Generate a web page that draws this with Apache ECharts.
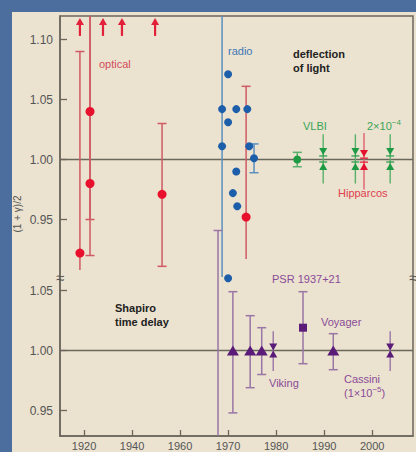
<!DOCTYPE html>
<html><head><meta charset="utf-8">
<script src="https://cdn.jsdelivr.net/npm/echarts@6/dist/echarts.min.js"></script>
<style>html,body{margin:0;padding:0;overflow:hidden;background:#4b6e9f}
#c{width:416px;height:452px}</style></head>
<body><div id="c"></div>
<script>
// ---------- data ----------
const xTickYears = [1920, 1940, 1960, 1970, 1980, 1990, 2000];
const topTicks = [0.95, 1.00, 1.05, 1.10];
const bottomTicks = [0.95, 1.00, 1.05];

// deflection of light: optical
const opticalArrowYears = [1918.3, 1927.9, 1935.8, 1949.6];
const opticalArrowFrom = 1.103;
const opticalArrowTo = 1.118;
const opticalYears = [1918.3, 1922.5, 1922.5, 1952.5];
const opticalValues = [0.922, 1.04, 0.98, 0.971];
const opticalLow = [0.908, 0.95, 0.92, 0.911];
const opticalHigh = [1.09, 1.1196, 1.1196, 1.03];
const opticalCapLow = [0, 1, 1, 1];
const opticalCapHigh = [1, 0, 0, 1];

// 1973 optical eclipse
const eclipseYears = [1973.75];
const eclipseValues = [0.952];
const eclipseLow = [0.917];
const eclipseHigh = [1.061];

// radio
const radioYears = [1968.75, 1968.75, 1970, 1970, 1971.7, 1974, 1974.4, 1975.4, 1971.7, 1971, 1971.9, 1970];
const radioValues = [1.042, 1.011, 1.071, 1.031, 1.042, 1.042, 1.011, 1.001, 0.99, 0.972, 0.961, 0.901];
const radioErrYears = [1968.75, 1975.4];
const radioErrLow = [0.902, 0.989];
const radioErrHigh = [1.1196, 1.013];
const radioCapLow = [0, 1];
const radioCapHigh = [0, 1];

// VLBI
const vlbiYears = [1984.4];
const vlbiValues = [1.0];
const vlbiLow = [0.994];
const vlbiHigh = [1.006];
const vlbiLimitYears = [1989.8, 1996.5, 2003.75];
const vlbiLimitLow = [0.98, 0.98, 0.98];
const vlbiLimitHigh = [1.021, 1.021, 1.021];
const vlbiTipHigh = [1.0038, 1.0038, 1.0038];
const vlbiTipLow = [0.9971, 0.9971, 0.9971];

// Hipparcos
const hipparcosYears = [1998.3];
const hipparcosLow = [0.975];
const hipparcosHigh = [1.022];
const hipparcosTipHigh = [1.002];
const hipparcosTipLow = [0.997];

// Shapiro time delay
const radar1968Years = [1967.9];
const radar1968Low = [0.929];
const radar1968High = [1.10];
const delayTriYears = [1971, 1974.6, 1977, 1991.9];
const delayTriValues = [1.0, 1.0, 1.0, 1.0];
const delayTriLow = [0.948, 0.969, 0.98, 0.984];
const delayTriHigh = [1.049, 1.029, 1.019, 1.014];
const pulsarYears = [1985.6];
const pulsarValues = [1.019];
const pulsarLow = [0.989];
const pulsarHigh = [1.049];
const delayLimitYears = [1979.4, 2003.75];
const delayLimitLow = [0.983, 0.983];
const delayLimitHigh = [1.016, 1.016];
const delayTipHigh = [1.0, 1.0];
const delayTipLow = [1.0, 1.0];

// ---------- axis transform (compressed before 1960) ----------
const u = y => (y >= 1960 ? y : 1960 + (y - 1960) / 2);
const yearOf = v => Math.round(v >= 1960 ? v : 1960 + (v - 1960) * 2);

const C = {
  redLine: '#cf5a63', redDot: '#e8102c',
  blueLine: '#5b8fbf', blueDot: '#1c5ea9',
  greenLine: '#58b06c', greenDot: '#1e9a44',
  purpleLine: '#9a76a6', purpleDot: '#5b1b78',
  axis: '#6b675c', text: '#555'
};

function errRender(color, capW, lw) {
  return function (params, api) {
    const x = api.value(0), lo = api.value(1), hi = api.value(2);
    const a = api.coord([x, lo]), b = api.coord([x, hi]);
    const st = {stroke: color, lineWidth: lw};
    const ch = [{type: 'line', shape: {x1: a[0], y1: a[1], x2: b[0], y2: b[1]}, style: st}];
    if (api.value(3)) ch.push({type: 'line', shape: {x1: a[0] - capW / 2, y1: a[1], x2: a[0] + capW / 2, y2: a[1]}, style: st});
    if (api.value(4)) ch.push({type: 'line', shape: {x1: b[0] - capW / 2, y1: b[1], x2: b[0] + capW / 2, y2: b[1]}, style: st});
    return {type: 'group', children: ch};
  };
}
function limitRender(lineColor, fill, w, h, caps) {
  return function (params, api) {
    const x = api.value(0);
    const a = api.coord([x, api.value(1)]), b = api.coord([x, api.value(2)]);
    const th = api.coord([x, api.value(3)]), tl = api.coord([x, api.value(4)]);
    const ch = [{type: 'line', shape: {x1: a[0], y1: a[1], x2: b[0], y2: b[1]}, style: {stroke: lineColor, lineWidth: 1.4}}];
    ch.push({type: 'polygon', shape: {points: [[th[0] - w / 2, th[1] - h], [th[0] + w / 2, th[1] - h], [th[0], th[1]]]}, style: {fill: fill}});
    ch.push({type: 'polygon', shape: {points: [[tl[0] - w / 2, tl[1] + h], [tl[0] + w / 2, tl[1] + h], [tl[0], tl[1]]]}, style: {fill: fill}});
    if (caps) {
      ch.push({type: 'line', shape: {x1: th[0] - w / 2, y1: th[1] + 1, x2: th[0] + w / 2, y2: th[1] + 1}, style: {stroke: fill, lineWidth: 1.2}});
      ch.push({type: 'line', shape: {x1: tl[0] - w / 2, y1: tl[1] - 1, x2: tl[0] + w / 2, y2: tl[1] - 1}, style: {stroke: fill, lineWidth: 1.2}});
    }
    return {type: 'group', children: ch};
  };
}
function arrowRender(color) {
  return function (params, api) {
    const x = api.value(0);
    const a = api.coord([x, api.value(1)]), b = api.coord([x, api.value(2)]);
    return {type: 'group', children: [
      {type: 'line', shape: {x1: a[0], y1: a[1], x2: b[0], y2: b[1] + 5}, style: {stroke: color, lineWidth: 2.2}},
      {type: 'polygon', shape: {points: [[b[0] - 4, b[1] + 7], [b[0] + 4, b[1] + 7], [b[0], b[1]]]}, style: {fill: color}}
    ]};
  };
}
const zip = (...arrs) => arrs[0].map((_, i) => arrs.map((a, k) => (k === 0 ? u(a[i]) : a[i])));
const ones = n => new Array(n).fill(1);
const zeros = n => new Array(n).fill(0);

function errSeries(yi, color, data) {
  return {type: 'custom', xAxisIndex: 0, yAxisIndex: yi, renderItem: errRender(color, 9, 1.5),
    encode: {x: 0, y: [1, 2]}, data: data, z: 3, silent: true};
}
function scatter(yi, color, symbol, size, years, vals) {
  return {type: 'scatter', xAxisIndex: 0, yAxisIndex: yi, symbol: symbol, symbolSize: size,
    itemStyle: {color: color, opacity: 1}, data: zip(years, vals), z: 5, silent: true};
}

const series = [
  // reference lines at 1.00
  {type: 'line', yAxisIndex: 0, data: [[1935, 1], [2008.5, 1]], symbol: 'none', lineStyle: {color: C.axis, width: 1.5}, z: 1, silent: true},
  {type: 'line', yAxisIndex: 1, data: [[1935, 1], [2008.5, 1]], symbol: 'none', lineStyle: {color: C.axis, width: 1.5}, z: 1, silent: true},
  // optical
  {type: 'custom', yAxisIndex: 0, renderItem: arrowRender('#e2203a'), encode: {x: 0, y: [1, 2]},
    data: zip(opticalArrowYears, opticalArrowYears.map(() => opticalArrowFrom), opticalArrowYears.map(() => opticalArrowTo)), z: 4, silent: true},
  errSeries(0, C.redLine, zip(opticalYears, opticalLow, opticalHigh, opticalCapLow, opticalCapHigh)),
  scatter(0, C.redDot, 'circle', 9, opticalYears, opticalValues),
  // radio
  errSeries(0, C.blueLine, zip(radioErrYears, radioErrLow, radioErrHigh, radioCapLow, radioCapHigh)),
  scatter(0, C.blueDot, 'circle', 8, radioYears, radioValues),
  // 1973 eclipse
  errSeries(0, C.redLine, zip(eclipseYears, eclipseLow, eclipseHigh, zeros(1), ones(1))),
  scatter(0, C.redDot, 'circle', 9, eclipseYears, eclipseValues),
  // VLBI
  errSeries(0, C.greenLine, zip(vlbiYears, vlbiLow, vlbiHigh, ones(1), ones(1))),
  scatter(0, C.greenDot, 'circle', 8, vlbiYears, vlbiValues),
  {type: 'custom', yAxisIndex: 0, renderItem: limitRender(C.greenLine, C.greenDot, 8, 7, true), encode: {x: 0, y: [1, 2]},
    data: zip(vlbiLimitYears, vlbiLimitLow, vlbiLimitHigh, vlbiTipHigh, vlbiTipLow), z: 4, silent: true},
  {type: 'custom', yAxisIndex: 0, renderItem: limitRender('#e0606e', '#e3102e', 8, 7, true), encode: {x: 0, y: [1, 2]},
    data: zip(hipparcosYears, hipparcosLow, hipparcosHigh, hipparcosTipHigh, hipparcosTipLow), z: 4, silent: true},
  // Shapiro time delay
  errSeries(1, C.purpleLine, zip(radar1968Years, radar1968Low, radar1968High, zeros(1), ones(1))),
  errSeries(1, C.purpleLine, zip(delayTriYears, delayTriLow, delayTriHigh, ones(4), ones(4))),
  scatter(1, C.purpleDot, 'triangle', [12, 10], delayTriYears, delayTriValues),
  errSeries(1, C.purpleLine, zip(pulsarYears, pulsarLow, pulsarHigh, ones(1), ones(1))),
  scatter(1, C.purpleDot, 'rect', 8, pulsarYears, pulsarValues),
  {type: 'custom', yAxisIndex: 1, renderItem: limitRender(C.purpleLine, C.purpleDot, 8, 7, false), encode: {x: 0, y: [1, 2]},
    data: zip(delayLimitYears, delayLimitLow, delayLimitHigh, delayTipHigh, delayTipLow), z: 4, silent: true}
];

const font = "'Liberation Sans', Arial, sans-serif";
function txt(x, y, text, color, opts) {
  return Object.assign({type: 'text', x: x, y: y, z: 20,
    style: Object.assign({text: text, fill: color, font: '11px ' + font, textVerticalAlign: 'middle'}, opts || {})});
}

const chart = echarts.init(document.getElementById('c'), null, {renderer: 'svg'});
chart.setOption({
  animation: false,
  backgroundColor: 'transparent',
  grid: {left: 60, right: 3, top: 16, bottom: 16, outerBoundsMode: 'none', containLabel: false,
    show: true, borderColor: C.axis, borderWidth: 1.5, backgroundColor: 'transparent'},
  xAxis: {
    type: 'value', min: 1935, max: 2008.5,
    axisLine: {show: true, lineStyle: {color: C.axis, width: 1.5}},
    axisTick: {show: true, inside: true, length: 6, customValues: xTickYears.map(u), lineStyle: {color: C.axis, width: 1.3}},
    axisLabel: {customValues: xTickYears.map(u), formatter: v => String(yearOf(v)), color: C.text, fontSize: 11, fontFamily: font, margin: 4},
    splitLine: {show: false}
  },
  yAxis: [
    {type: 'value', min: 0.7696, max: 1.1196, position: 'left',
      axisLine: {show: true, lineStyle: {color: C.axis, width: 1.5}},
      axisTick: {show: true, inside: true, length: 7, customValues: topTicks, lineStyle: {color: C.axis, width: 1.3}},
      axisLabel: {customValues: topTicks, formatter: v => v.toFixed(2), color: C.text, fontSize: 12, fontFamily: font, margin: 7},
      splitLine: {show: false}},
    {type: 'value', min: 0.92875, max: 1.27875, position: 'left',
      axisLine: {show: false},
      axisTick: {show: true, inside: true, length: 7, customValues: bottomTicks, lineStyle: {color: C.axis, width: 1.3}},
      axisLabel: {customValues: bottomTicks, formatter: v => v.toFixed(2), color: C.text, fontSize: 12, fontFamily: font, margin: 7},
      splitLine: {show: false}}
  ],
  graphic: [
    {type: 'rect', shape: {x: 12, y: 12, width: 404, height: 440}, style: {fill: '#ebe2cf'}, z: -100, silent: true},
    txt(99, 64, 'optical', '#d24e5c'),
    txt(228, 51, 'radio', '#3d79b8'),
    txt(293, 54, 'deflection', '#222', {font: 'bold 11px ' + font}),
    txt(293, 68, 'of light', '#222', {font: 'bold 11px ' + font}),
    txt(303, 126, 'VLBI', '#3aa456'),
    {type: 'text', x: 367, y: 126, z: 20, style: {text: '{a|2×10}{s|−4}', textVerticalAlign: 'middle',
      rich: {a: {fill: '#3aa456', font: '11px ' + font}, s: {fill: '#3aa456', font: '8px ' + font, verticalAlign: 'top', padding: [0, 0, 8, 0]}}}},
    txt(338, 193, 'Hipparcos', '#e0404e'),
    txt(115, 308, 'Shapiro', '#222', {font: 'bold 11px ' + font}),
    txt(115, 322, 'time delay', '#222', {font: 'bold 11px ' + font}),
    txt(272, 279, 'PSR 1937+21', '#8a4c98'),
    txt(321, 322, 'Voyager', '#8a4c98'),
    txt(269, 383, 'Viking', '#8a4c98'),
    txt(344, 379, 'Cassini', '#8a4c98'),
    {type: 'text', x: 344, y: 393, z: 20, style: {text: '{a|(1×10}{s|−5}{a|)}', textVerticalAlign: 'middle',
      rich: {a: {fill: '#8a4c98', font: '11px ' + font}, s: {fill: '#8a4c98', font: '8px ' + font, verticalAlign: 'top', padding: [0, 0, 8, 0]}}}},
    {type: 'text', x: 17, y: 214, rotation: Math.PI / 2, z: 20,
      style: {text: '(1 + γ)/2', fill: '#555', font: '10px ' + font, textAlign: 'center', textVerticalAlign: 'middle'}},
    {type: 'text', x: 60, y: 277, z: 20, style: {text: '≈', fill: '#555', font: '15px ' + font, textAlign: 'center', textVerticalAlign: 'middle'}},
    {type: 'text', x: 413, y: 277, z: 20, style: {text: '≈', fill: '#555', font: '15px ' + font, textAlign: 'center', textVerticalAlign: 'middle'}}
  ],
  series: series
});
</script></body></html>
